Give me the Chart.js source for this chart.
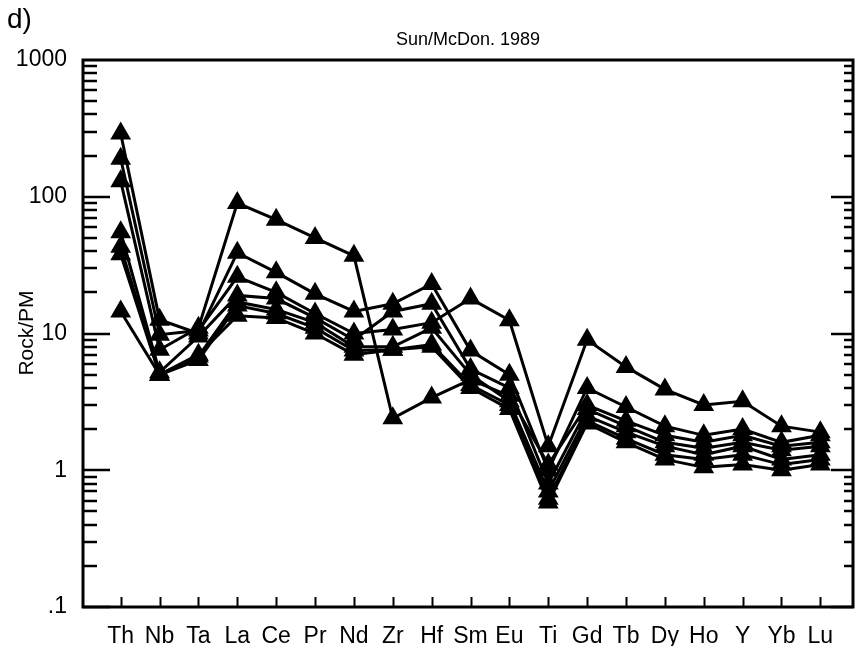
<!DOCTYPE html>
<html>
<head>
<meta charset="utf-8">
<script src="https://cdn.jsdelivr.net/npm/chart.js@4/dist/chart.umd.min.js"></script>
<style>
  body { margin: 0; background: #fff; }
  #caja { position: relative; width: 865px; height: 646px; }
</style>
</head>
<body>
<div id="caja"><canvas id="spider"></canvas></div>
<script>
// elementos del diagrama (normalizado a manto primitivo)
const elementos = ['Th', 'Nb', 'Ta', 'La', 'Ce', 'Pr', 'Nd', 'Zr', 'Hf', 'Sm', 'Eu', 'Ti', 'Gd', 'Tb', 'Dy', 'Ho', 'Y', 'Yb', 'Lu'];

// valores Rock/PM de cada muestra, mismo orden que elementos
const muestra1 = [130, 7.6, 11, 90, 68, 50, 37, 2.4, 3.4, 4.6, 3.5, 1.1, 3.0, 2.3, 1.8, 1.6, 1.8, 1.5, 1.6];
const muestra2 = [290, 12.6, 10, 39, 28, 19.5, 14.5, 16.5, 23, 7.5, 5, 1.0, 4, 2.9, 2.1, 1.8, 2.0, 1.6, 1.8];
const muestra3 = [190, 9.8, 10.5, 26, 20, 14, 10, 10.7, 12, 18, 12.5, 1.5, 9, 5.7, 3.9, 3.0, 3.2, 2.1, 1.9];
const muestra4 = [55, 5.2, 9.5, 19, 18, 13, 9, 14.5, 16.5, 5.5, 4, 0.8, 2.8, 2.1, 1.6, 1.45, 1.6, 1.4, 1.5];
const muestra5 = [43, 5, 6.8, 17, 15, 12, 8, 8, 11, 5, 3.2, 0.7, 2.5, 1.9, 1.5, 1.3, 1.5, 1.2, 1.3];
const muestra6 = [38, 5, 6.4, 16, 14, 11, 7.5, 7.6, 8.3, 4.2, 3.0, 0.62, 2.3, 1.7, 1.3, 1.2, 1.3, 1.1, 1.2];
const muestra7 = [14.5, 5, 7, 13.5, 13, 10, 7, 7.6, 8, 4, 2.8, 0.58, 2.2, 1.6, 1.2, 1.05, 1.1, 1.0, 1.1];

const muestras = [muestra1, muestra2, muestra3, muestra4, muestra5, muestra6, muestra7];

// marcas del eje y (escala logaritmica)
const marcasY = [0.1, 1, 10, 100, 1000];
const textosY = ['.1', '1', '10', '100', '1000'];

const fuente = "'Liberation Sans', Arial, Helvetica, sans-serif";

// marco, rayitas del eje y textos del grafico
const marcoPlugin = {
  id: 'marco',
  afterDraw(chart) {
    const ctx = chart.ctx;
    const area = chart.chartArea;
    const ejeY = chart.scales.y;
    const ejeX = chart.scales.x;

    ctx.save();
    ctx.strokeStyle = '#000';
    ctx.lineWidth = 3;
    ctx.lineCap = 'butt';
    ctx.strokeRect(area.left, area.top, area.right - area.left, area.bottom - area.top);

    ctx.lineWidth = 2.5;
    for (let d = -1; d <= 2; d++) {
      for (let k = 1; k <= 9; k++) {
        const v = k * Math.pow(10, d);
        const py = Math.round(ejeY.getPixelForValue(v));
        const mayor = (k === 1);
        ctx.beginPath();
        ctx.moveTo(area.left, py);
        ctx.lineTo(area.left + (mayor ? 27 : 14), py);
        ctx.moveTo(area.right, py);
        ctx.lineTo(area.right - (mayor ? 22 : 9), py);
        ctx.stroke();
      }
    }

    // rayitas del eje x, una por elemento
    ctx.lineWidth = 2;
    for (let i = 0; i < elementos.length; i++) {
      const px = Math.round(ejeX.getPixelForValue(i)) + 0.5;
      ctx.beginPath();
      ctx.moveTo(px, area.bottom);
      ctx.lineTo(px, area.bottom - 10);
      ctx.stroke();
    }

    // textos
    ctx.fillStyle = '#000';
    ctx.textAlign = 'left';
    ctx.textBaseline = 'middle';
    ctx.font = '28px ' + fuente;
    ctx.fillText('d)', 7, 20);

    ctx.textAlign = 'center';
    ctx.font = '18px ' + fuente;
    ctx.fillText('Sun/McDon. 1989', (area.left + area.right) / 2, 40);

    ctx.translate(27, 333);
    ctx.rotate(-Math.PI / 2);
    ctx.font = '21px ' + fuente;
    ctx.fillText('Rock/PM', 0, 0);
    ctx.restore();
  }
};

const datasets = muestras.map(function (valores) {
  return {
    data: valores.map(function (v, i) { return { x: i, y: v }; }),
    borderColor: '#000',
    backgroundColor: '#000',
    borderWidth: 3,
    pointStyle: 'triangle',
    pointRadius: 12,
    pointBorderWidth: 0,
    pointHoverRadius: 12,
    tension: 0
  };
});

new Chart(document.getElementById('spider').getContext('2d'), {
  type: 'line',
  data: { datasets: datasets },
  plugins: [marcoPlugin],
  options: {
    responsive: true,
    maintainAspectRatio: false,
    animation: false,
    events: [],
    layout: { padding: { top: 60, right: 3, left: 0, bottom: 0 } },
    plugins: {
      legend: { display: false },
      tooltip: { enabled: false },
      title: { display: false }
    },
    scales: {
      x: {
        type: 'linear',
        min: -0.97,
        max: 18.84,
        grid: { display: false, drawTicks: false },
        border: { display: false },
        afterFit(scale) { scale.height = 39; },
        afterBuildTicks(scale) {
          scale.ticks = elementos.map(function (e, i) { return { value: i }; });
        },
        ticks: {
          autoSkip: false,
          maxRotation: 0,
          padding: 16,
          color: '#000',
          font: { family: fuente, size: 23 },
          callback: function (v) { return elementos[v]; }
        }
      },
      y: {
        type: 'logarithmic',
        min: 0.1,
        max: 1000,
        grid: { display: false, drawTicks: false },
        border: { display: false },
        afterFit(scale) { scale.width = 83; },
        afterBuildTicks(scale) {
          scale.ticks = marcasY.map(function (v) { return { value: v }; });
        },
        ticks: {
          padding: 16,
          color: '#000',
          font: { family: fuente, size: 23 },
          callback: function (v) { return textosY[marcasY.indexOf(v)]; }
        }
      }
    }
  }
});
</script>
</body>
</html>
